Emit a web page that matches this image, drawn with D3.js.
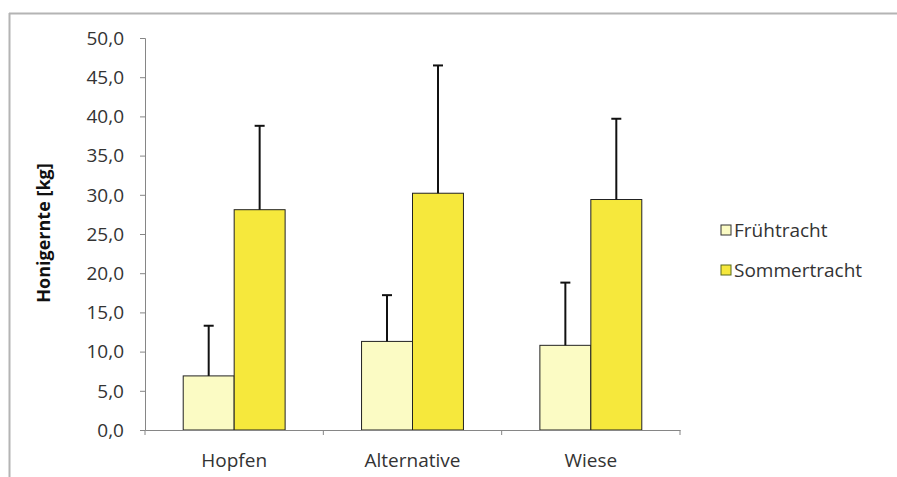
<!DOCTYPE html>
<html><head><meta charset="utf-8">
<script src="https://cdn.jsdelivr.net/npm/d3@7"></script>
<style>body{margin:0;background:#fff}svg{display:block}text{font-family:"Open Sans",sans-serif}</style>
</head><body><div id="c"></div>
<script>
const categories = ["Hopfen", "Alternative", "Wiese"];
const seriesNames = ["Frühtracht", "Sommertracht"];
const fruehtracht = [6.9, 11.3, 10.8];
const sommertracht = [28.1, 30.2, 29.4];
const fruehError = [13.3, 17.2, 18.8];
const sommerError = [38.8, 46.5, 39.7];
const yTicks = [0,5,10,15,20,25,30,35,40,45,50];
const colors = ["#fbfbc4", "#f6e83c"];

(function(){
const W = 897, H = 477;
const svg = d3.select("#c").append("svg").attr("width", W).attr("height", H);
// frame
svg.append("line").attr("x1",9).attr("x2",W).attr("y1",13.5).attr("y2",13.5).attr("stroke","#b4b4b4").attr("stroke-width",2);
svg.append("line").attr("x1",9.5).attr("x2",9.5).attr("y1",13).attr("y2",H).attr("stroke","#b4b4b4").attr("stroke-width",2);

const mLeft = 145, mRight = 680, mTop = 38, mBottom = 430;
const x = d3.scaleBand().domain(categories).range([mLeft, mRight]).paddingInner(0).paddingOuter(0);
const y = d3.scaleLinear().domain([0, 50]).range([mBottom, mTop]);
const barW = x.bandwidth() / 3.5;

const data = categories.map((c, i) => ({c, vals: [fruehtracht[i], sommertracht[i]], errs: [fruehError[i], sommerError[i]]}));

// y axis
const yAxis = d3.axisLeft(y).tickValues(yTicks).tickSize(5).tickFormat(d => d3.format(".1f")(d).replace(".", ","));
const gy = svg.append("g").attr("transform", `translate(${mLeft},0)`).call(yAxis);
gy.select(".domain").attr("stroke", "#868686");
gy.selectAll(".tick line").attr("stroke", "#868686");
gy.selectAll(".tick text").attr("font-size", 19).attr("fill", "#333").attr("x", -21).attr("dy", "0.33em");

// bars
data.forEach((d) => {
  const cx = x(d.c) + x.bandwidth() / 2;
  d.vals.forEach((v, j) => {
    const bx = cx - barW + j * barW;
    svg.append("rect").attr("x", bx).attr("y", y(v)).attr("width", barW).attr("height", y(0) - y(v))
      .attr("fill", colors[j]).attr("stroke", "#222").attr("stroke-width", 1);
    const ex = bx + barW / 2;
    svg.append("line").attr("x1", ex).attr("x2", ex).attr("y1", y(v)).attr("y2", y(d.errs[j])).attr("stroke", "#111").attr("stroke-width", 2);
    svg.append("line").attr("x1", ex - 5).attr("x2", ex + 5).attr("y1", y(d.errs[j])).attr("y2", y(d.errs[j])).attr("stroke", "#111").attr("stroke-width", 2);
  });
});

// x axis
const xAxis = d3.axisBottom(x).tickSize(0);
const gx = svg.append("g").attr("transform", `translate(0,${mBottom})`).call(xAxis);
gx.select(".domain").attr("stroke", "#868686");
gx.selectAll(".tick text").attr("font-size", 19).attr("fill", "#333").attr("y", 30).attr("dy", "0.35em");
const bounds = [mLeft, ...categories.map(c => x(c) + x.bandwidth())];
svg.selectAll(".xt").data(bounds).enter().append("line").attr("x1", d => d).attr("x2", d => d)
  .attr("y1", mBottom).attr("y2", mBottom + 5).attr("stroke", "#868686");

// y label
svg.append("text").attr("transform", `translate(44,${(mTop+mBottom)/2 -1}) rotate(-90)`).attr("text-anchor", "middle")
  .attr("dy", "0.35em").attr("font-size", 18).attr("font-weight", "bold").attr("fill", "#111").text("Honigernte [kg]");

// legend
seriesNames.forEach((n, i) => {
  const ly = 230 + i * 40;
  svg.append("rect").attr("x", 721).attr("y", ly - 5).attr("width", 10).attr("height", 10)
    .attr("fill", colors[i]).attr("stroke", i === 0 ? "#333" : "#5a6a1a").attr("stroke-width", 1);
  svg.append("text").attr("x", 734).attr("y", ly).attr("dy", "0.35em").attr("font-size", 19).attr("fill", "#333").text(n);
});
})();
</script></body></html>
